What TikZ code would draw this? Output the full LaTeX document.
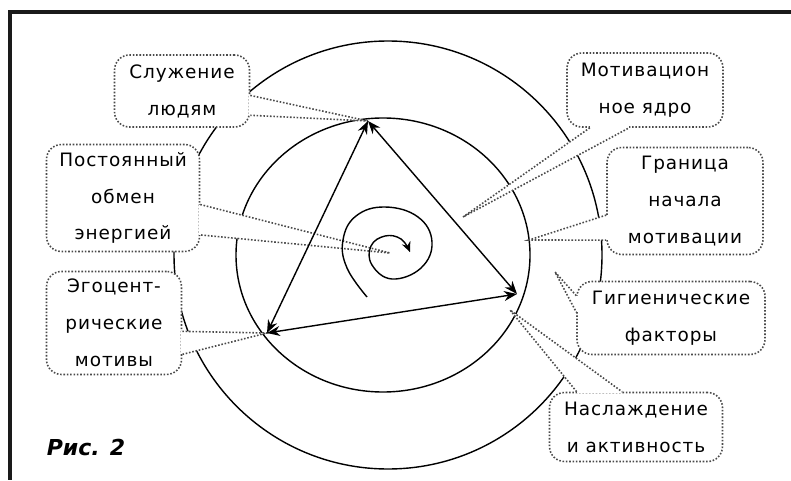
\documentclass[tikz,border=0pt]{standalone}
\usepackage{fontspec}
\usepackage{tikz}
\usetikzlibrary{arrows.meta,calc}
\newfontfamily\vynfont[LetterSpace=5]{DejaVu Sans}
\newfontfamily\risfont{DejaVu Sans}
\definecolor{kontur}{HTML}{4A4A4A}
\definecolor{ramka}{HTML}{1A1A1A}
% хвост выноски: две точки основания и острие
\newcommand{\hvost}[3]{%
  \fill[white] (#1) -- (#3) -- (#2) -- cycle;
  \draw[white, line width=1.8pt] (#1) -- (#2);
  \draw[ukazatel] (#1) -- (#3) -- (#2);}

\begin{document}
\begin{tikzpicture}[x=0.2mm, y=-0.2mm,
  vynoska/.style={draw=kontur, densely dotted, line width=0.9pt, fill=white,
                  rounded corners=3mm, align=center, inner sep=1pt,
                  font=\fontsize{10.5}{21}\selectfont\vynfont,
                  execute at begin node=\rule{0pt}{14pt}},
  ukazatel/.style={draw=kontur, densely dotted, line width=0.9pt},
  krug/.style={line width=0.8pt},
  strelka/.style={{Stealth[length=2.6mm,width=2mm]}-{Stealth[length=2.6mm,width=2mm]},
                  line width=0.8pt}
]
\useasboundingbox (0,0) rectangle (791,480);
\draw[ramka, line width=0.8mm] (791,12) -- (10,12) -- (10,480);

% круги
\coordinate (ctr) at (388,255);
\draw[krug] (ctr) circle [radius=214];
\draw[krug] (383,255) ellipse [x radius=147, y radius=137];

% вершины треугольника и точки выносок
\coordinate (vtop) at (368,121);
\coordinate (vright) at (517,294);
\coordinate (vleft) at (267,333);
\coordinate (spc) at (390,253);
\coordinate (core) at (463,217);
\coordinate (bound) at (529,240);
\coordinate (hyg) at (555,272);
\coordinate (joy) at (510,310);

% выноски
\node[vynoska, minimum width=27mm, minimum height=14.4mm] (s1) at (182,91)
  {Служение\\людям};
\node[vynoska, minimum width=30.6mm, minimum height=21.4mm] (s2) at (123,198)
  {Постоянный\\обмен\\энергией};
\node[vynoska, minimum width=27mm, minimum height=20.6mm] (s3) at (114,323)
  {Эгоцент-\\рические\\мотивы};
\node[vynoska, minimum width=31.2mm, minimum height=14.8mm] (s4) at (645,90)
  {Мотивацион\\ное ядро};
\node[vynoska, minimum width=31.2mm, minimum height=21.4mm] (s5) at (685,201)
  {Граница\\начала\\мотивации};
\node[vynoska, minimum width=37.6mm, minimum height=14.6mm] (s6) at (671,318)
  {Гигиенические\\факторы};
\node[vynoska, minimum width=34.6mm, minimum height=13.8mm] (s7) at (636,427)
  {Наслаждение\\и активность};

\coordinate (s1a) at ($(s1.north east)!.56!(s1.south east)$);
\coordinate (s1b) at ($(s1.north east)!.83!(s1.south east)$);
\coordinate (s2a) at ($(s2.north east)!.56!(s2.south east)$);
\coordinate (s2b) at ($(s2.north east)!.84!(s2.south east)$);
\coordinate (s3a) at ($(s3.north east)!.58!(s3.south east)$);
\coordinate (s3b) at ($(s3.north east)!.80!(s3.south east)$);
\coordinate (s4a) at ($(s4.south west)!.15!(s4.south east)$);
\coordinate (s4b) at ($(s4.south west)!.40!(s4.south east)$);
\coordinate (s5a) at ($(s5.north west)!.63!(s5.south west)$);
\coordinate (s5b) at ($(s5.north west)!.86!(s5.south west)$);
\coordinate (s6a) at ($(s6.north west)!.20!(s6.south west)$);
\coordinate (s6b) at ($(s6.north west)!.42!(s6.south west)$);
\coordinate (s7a) at ($(s7.north west)!.16!(s7.north east)$);
\coordinate (s7b) at ($(s7.north west)!.42!(s7.north east)$);

\hvost{s1a}{s1b}{vtop}
\hvost{s2a}{s2b}{spc}
\hvost{s3a}{s3b}{vleft}
\hvost{s4a}{s4b}{core}
\hvost{s5a}{s5b}{bound}
\hvost{s6a}{s6b}{hyg}
\hvost{s7a}{s7b}{joy}

% треугольник
\draw[strelka] (vtop) -- (vright);
\draw[strelka] (vright) -- (vleft);
\draw[strelka] (vleft) -- (vtop);

% спираль
\draw[krug, -{Stealth[length=2mm,width=1.8mm]}] plot[smooth, tension=0.7] coordinates
  {(367,297) (347,268) (343,240) (356,216) (385,207) (418,217) (432,242)
   (421,268) (392,279) (372,265) (371,246) (385,236) (401,239) (410,252)};

\node[font=\fontsize{12.5}{12}\selectfont\risfont\bfseries\itshape] (ris) at (86,447) {Рис. 2};
\end{tikzpicture}
\end{document}
